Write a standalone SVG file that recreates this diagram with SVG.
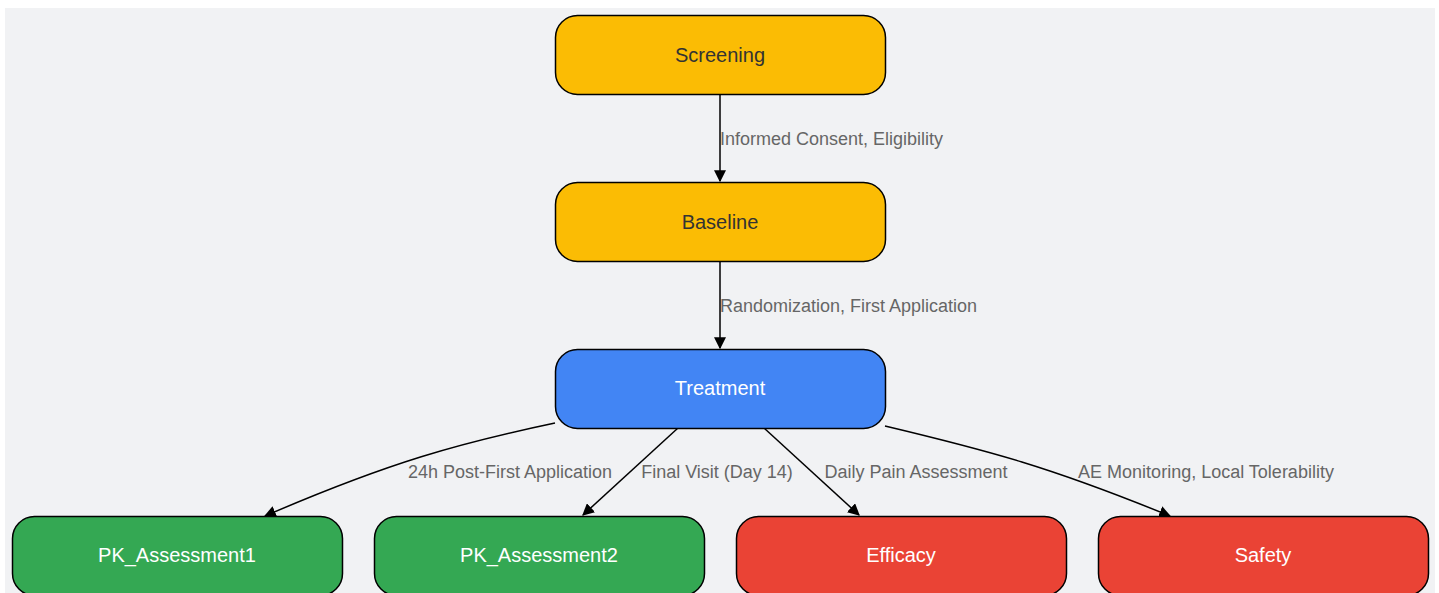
<svg xmlns="http://www.w3.org/2000/svg" width="1439" height="593" viewBox="0 0 1439 593">
<defs>
<marker id="arr" viewBox="0 0 10 10" refX="9" refY="5" markerWidth="12" markerHeight="12" markerUnits="userSpaceOnUse" orient="auto">
<path d="M0,0 L10,5 L0,10 z" fill="#000"/>
</marker>
<style>
.node rect{stroke:#000;stroke-width:1.5}
.node text{font-family:"Liberation Sans",Arial,sans-serif;font-size:20px;text-anchor:middle;dominant-baseline:central}
.dark{fill:#333}
.light{fill:#fff}
.edge{fill:none;stroke:#000;stroke-width:1.5;marker-end:url(#arr)}
.lbl{font-family:"Liberation Sans",Arial,sans-serif;font-size:18px;fill:#666}
</style>
</defs>
<rect x="0" y="0" width="1439" height="593" fill="#fff"/>
<rect x="5" y="8" width="1430" height="590" fill="#f1f2f4"/>
<g id="connectors">
<path class="edge" d="M720,94 L720,181"/>
<path class="edge" d="M720,261 L720,348"/>
<path class="edge" d="M555,423 C460,443 390,462 265,516"/>
<path class="edge" d="M678,428 L583,515"/>
<path class="edge" d="M764,428 L859,515"/>
<path class="edge" d="M885,426 C990,451 1050,467 1170,516"/>
<text class="lbl" x="720" y="145">Informed Consent, Eligibility</text>
<text class="lbl" x="720" y="312">Randomization, First Application</text>
<text class="lbl" x="510" y="478" text-anchor="middle">24h Post-First Application</text>
<text class="lbl" x="717" y="478" text-anchor="middle">Final Visit (Day 14)</text>
<text class="lbl" x="916" y="478" text-anchor="middle">Daily Pain Assessment</text>
<text class="lbl" x="1206" y="478" text-anchor="middle">AE Monitoring, Local Tolerability</text>
</g>
<g id="Screening" class="node"><rect x="555.5" y="15.5" width="330" height="79" rx="22" fill="#fbbc04"/><text class="dark" x="720" y="55">Screening</text></g>
<g id="Baseline" class="node"><rect x="555.5" y="182.5" width="330" height="79" rx="22" fill="#fbbc04"/><text class="dark" x="720" y="222">Baseline</text></g>
<g id="Treatment" class="node"><rect x="555.5" y="349.5" width="330" height="79" rx="22" fill="#4285f4"/><text class="light" x="720" y="388">Treatment</text></g>
<g id="PK_Assessment1" class="node"><rect x="12.5" y="516.5" width="330" height="79" rx="22" fill="#34a853"/><text class="light" x="177" y="555">PK_Assessment1</text></g>
<g id="PK_Assessment2" class="node"><rect x="374.5" y="516.5" width="330" height="79" rx="22" fill="#34a853"/><text class="light" x="539" y="555">PK_Assessment2</text></g>
<g id="Efficacy" class="node"><rect x="736.5" y="516.5" width="330" height="79" rx="22" fill="#ea4335"/><text class="light" x="901" y="555">Efficacy</text></g>
<g id="Safety" class="node"><rect x="1098.5" y="516.5" width="330" height="79" rx="22" fill="#ea4335"/><text class="light" x="1263" y="555">Safety</text></g>
</svg>
